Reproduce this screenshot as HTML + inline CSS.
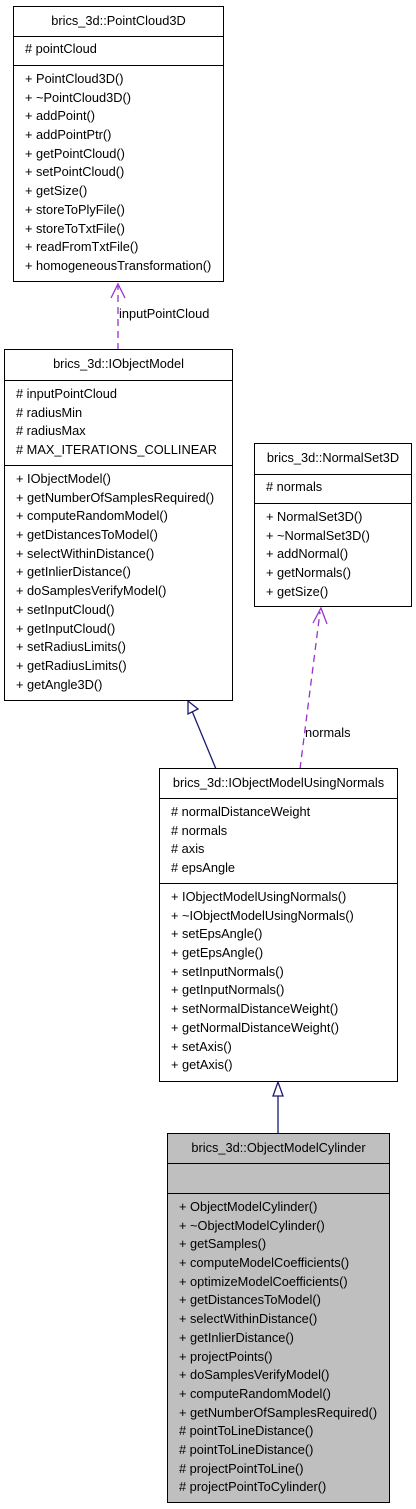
<!DOCTYPE html>
<html><head><meta charset="utf-8"><style>
body{margin:0;width:416px;height:1509px;background:#fff;position:relative;font-family:"Liberation Sans",sans-serif;font-size:12.8px;color:#000;overflow:hidden}
.b{position:absolute;border:1.5px solid #000;box-sizing:border-box;background:#fff}
.g{background:#bfbfbf}
.t{text-align:center;border-bottom:1.5px solid #000;box-sizing:border-box;line-height:27px}
.s{border-bottom:1.5px solid #000;padding:4px 0 0 11px;box-sizing:border-box}
.m{padding:4px 0 0 11px}
.r{height:18.7px;line-height:18.7px;white-space:nowrap}
svg{position:absolute;left:0;top:0}
.l{position:absolute;font-size:12.8px}
</style></head><body>
<svg width="416" height="1509">
<g fill="none" stroke-width="1.3">
<path d="M118 350 V286" stroke="#9a32cd" stroke-dasharray="7,5"/>
<path d="M111 298 L118 284 L125 298" stroke="#9a32cd"/>
<path d="M300 769 L320 612" stroke="#9a32cd" stroke-dasharray="7,5"/>
<path d="M313 623 L321 608 L327 624" stroke="#9a32cd"/>
<path d="M216 769 L192 711" stroke="#191970"/>
<path d="M188 701 L198 709 L188 714 Z" stroke="#191970" fill="#fff"/>
<path d="M278 1134 V1096" stroke="#191970"/>
<path d="M273 1096 L278 1082 L283 1096 Z" stroke="#191970" fill="#fff"/>
</g></svg>
<div class="l" style="left:119px;top:306px">inputPointCloud</div>
<div class="l" style="left:305px;top:725px">normals</div>

<div class="b" style="left:13px;top:6px;width:211px;height:276px">
<div class="t" style="height:30px">brics_3d::PointCloud3D</div>
<div class="s" style="height:29px;padding-top:3px"><div class="r"># pointCloud</div></div>
<div class="m">
<div class="r">+ PointCloud3D()</div><div class="r">+ ~PointCloud3D()</div><div class="r">+ addPoint()</div><div class="r">+ addPointPtr()</div><div class="r">+ getPointCloud()</div><div class="r">+ setPointCloud()</div><div class="r">+ getSize()</div><div class="r">+ storeToPlyFile()</div><div class="r">+ storeToTxtFile()</div><div class="r">+ readFromTxtFile()</div><div class="r">+ homogeneousTransformation()</div>
</div></div>

<div class="b" style="left:4px;top:349px;width:229px;height:352px">
<div class="t" style="height:31px">brics_3d::IObjectModel</div>
<div class="s" style="height:85px"><div class="r"># inputPointCloud</div><div class="r"># radiusMin</div><div class="r"># radiusMax</div><div class="r"># MAX_ITERATIONS_COLLINEAR</div></div>
<div class="m">
<div class="r">+ IObjectModel()</div><div class="r">+ getNumberOfSamplesRequired()</div><div class="r">+ computeRandomModel()</div><div class="r">+ getDistancesToModel()</div><div class="r">+ selectWithinDistance()</div><div class="r">+ getInlierDistance()</div><div class="r">+ doSamplesVerifyModel()</div><div class="r">+ setInputCloud()</div><div class="r">+ getInputCloud()</div><div class="r">+ setRadiusLimits()</div><div class="r">+ getRadiusLimits()</div><div class="r">+ getAngle3D()</div>
</div></div>

<div class="b" style="left:254px;top:443px;width:158px;height:164px">
<div class="t" style="height:31px">brics_3d::NormalSet3D</div>
<div class="s" style="height:29px;padding-top:3px"><div class="r"># normals</div></div>
<div class="m">
<div class="r">+ NormalSet3D()</div><div class="r">+ ~NormalSet3D()</div><div class="r">+ addNormal()</div><div class="r">+ getNormals()</div><div class="r">+ getSize()</div>
</div></div>

<div class="b" style="left:159px;top:768px;width:239px;height:314px">
<div class="t" style="height:30px">brics_3d::IObjectModelUsingNormals</div>
<div class="s" style="height:85px"><div class="r"># normalDistanceWeight</div><div class="r"># normals</div><div class="r"># axis</div><div class="r"># epsAngle</div></div>
<div class="m">
<div class="r">+ IObjectModelUsingNormals()</div><div class="r">+ ~IObjectModelUsingNormals()</div><div class="r">+ setEpsAngle()</div><div class="r">+ getEpsAngle()</div><div class="r">+ setInputNormals()</div><div class="r">+ getInputNormals()</div><div class="r">+ setNormalDistanceWeight()</div><div class="r">+ getNormalDistanceWeight()</div><div class="r">+ setAxis()</div><div class="r">+ getAxis()</div>
</div></div>

<div class="b g" style="left:167px;top:1133px;width:223px;height:370px">
<div class="t" style="height:30px">brics_3d::ObjectModelCylinder</div>
<div class="s" style="height:30px"></div>
<div class="m">
<div class="r">+ ObjectModelCylinder()</div><div class="r">+ ~ObjectModelCylinder()</div><div class="r">+ getSamples()</div><div class="r">+ computeModelCoefficients()</div><div class="r">+ optimizeModelCoefficients()</div><div class="r">+ getDistancesToModel()</div><div class="r">+ selectWithinDistance()</div><div class="r">+ getInlierDistance()</div><div class="r">+ projectPoints()</div><div class="r">+ doSamplesVerifyModel()</div><div class="r">+ computeRandomModel()</div><div class="r">+ getNumberOfSamplesRequired()</div><div class="r"># pointToLineDistance()</div><div class="r"># pointToLineDistance()</div><div class="r"># projectPointToLine()</div><div class="r"># projectPointToCylinder()</div>
</div></div>
</body></html>
